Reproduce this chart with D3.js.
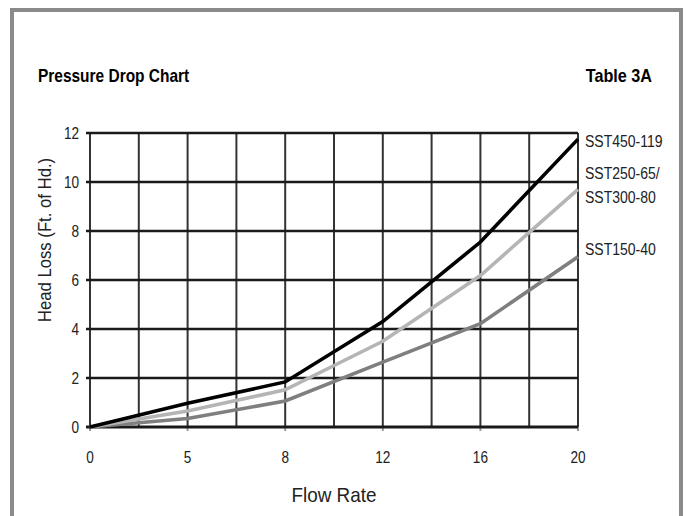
<!DOCTYPE html>
<html>
<head>
<meta charset="utf-8">
<script src="https://cdn.jsdelivr.net/npm/d3@7"></script>
<style>
  html, body { margin: 0; padding: 0; background: #fff; }
  svg { display: block; }
  text { font-family: "Liberation Sans", Arial, sans-serif; }
</style>
</head>
<body>
<svg id="chart" width="687" height="516"></svg>
<script>
// ---- data ----
const categories = ["0", "5", "8", "12", "16", "20"];
const yTicks = [0, 2, 4, 6, 8, 10, 12];
const sst450 = [0, 0.97, 1.84, 4.3, 7.55, 11.75];
const sst250 = [0, 0.65, 1.52, 3.5, 6.18, 9.7];
const sst150 = [0, 0.35, 1.06, 2.65, 4.22, 6.95];
const seriesNames = ["SST450-119", "SST250-65/\nSST300-80", "SST150-40"];
const seriesColors = ["#000000", "#b5b5b5", "#7f7f7f"];
const series = [sst450, sst250, sst150];

const svg = d3.select("#chart");
const m = { left: 90, right: 578, top: 133, bottom: 427 };

// condensed text helper
function ctext(parent, x, y, str, size, sx, anchor, opts = {}) {
  const g = parent.append("g")
    .attr("transform", `translate(${x},${y}) ${opts.rotate ? "rotate(" + opts.rotate + ")" : ""} scale(${sx},1)`);
  return g.append("text")
    .attr("x", 0).attr("y", 0)
    .attr("text-anchor", anchor)
    .attr("font-size", size)
    .attr("font-weight", opts.bold ? "bold" : "normal")
    .attr("fill", opts.fill || "#222")
    .text(str);
}

// frame
svg.append("rect").attr("x", 12).attr("y", 10).attr("width", 669).attr("height", 520)
  .attr("fill", "#fff").attr("stroke", "#8a8a8a").attr("stroke-width", 4);

// titles
ctext(svg, 38, 82, "Pressure Drop Chart", 18, 0.86, "start", { bold: true, fill: "#000" });
ctext(svg, 652, 82, "Table 3A", 18, 0.9, "end", { bold: true, fill: "#000" });

const x = d3.scalePoint().domain(categories).range([m.left, m.right]);
const y = d3.scaleLinear().domain([0, 12]).range([m.bottom, m.top]);

const g = svg.append("g");

// vertical grid lines (at categories and mid-points)
const xPos = categories.map(c => x(c));
const vLines = [];
xPos.forEach((p, i) => {
  vLines.push(p);
  if (i < xPos.length - 1) vLines.push((p + xPos[i + 1]) / 2);
});
g.selectAll("line.v").data(vLines).enter().append("line")
  .attr("x1", d => d).attr("x2", d => d)
  .attr("y1", m.top).attr("y2", m.bottom)
  .attr("stroke", "#333").attr("stroke-width", 2);

// x small tick marks below axis
g.selectAll("line.xt").data(xPos).enter().append("line")
  .attr("x1", d => d).attr("x2", d => d)
  .attr("y1", m.bottom).attr("y2", m.bottom + 4)
  .attr("stroke", "#999").attr("stroke-width", 2);

// horizontal grid lines
g.selectAll("line.h").data(yTicks).enter().append("line")
  .attr("x1", m.left - 4).attr("x2", m.right)
  .attr("y1", d => y(d)).attr("y2", d => y(d))
  .attr("stroke", "#1a1a1a").attr("stroke-width", d => d === 0 ? 3 : 2.6);

// y tick labels
yTicks.forEach(t => ctext(g, m.left - 11, y(t) + 6, String(t), 16, 0.85, "end"));

// x tick labels
categories.forEach(c => ctext(g, x(c), 463, c, 16, 0.85, "middle"));

// series lines
const line = d3.line().x((d, i) => x(categories[i])).y(d => y(d));
[2, 1, 0].forEach(k => {
  g.append("path").datum(series[k])
    .attr("d", line)
    .attr("fill", "none")
    .attr("stroke", seriesColors[k])
    .attr("stroke-width", 3.6)
    .attr("stroke-linejoin", "miter");
});

// series labels
const labelPos = [[585, 147], [585, 179], [585, 255]];
seriesNames.forEach((name, k) => {
  name.split("\n").forEach((ln, j) => {
    ctext(svg, labelPos[k][0], labelPos[k][1] + j * 24, ln, 16.5, 0.85, "start");
  });
});

// axis titles
ctext(svg, 51, 240, "Head Loss (Ft. of Hd.)", 19, 0.88, "middle", { rotate: -90 });
ctext(svg, (m.left + m.right) / 2, 502, "Flow Rate", 21, 0.9, "middle");
</script>
</body>
</html>
